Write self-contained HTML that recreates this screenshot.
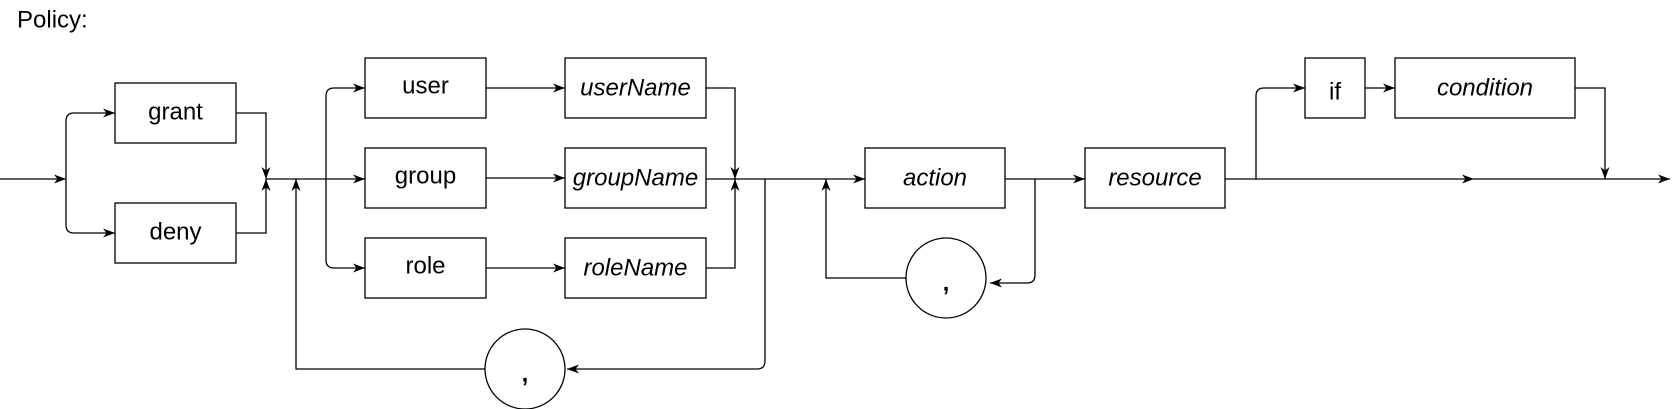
<!DOCTYPE html>
<html><head><meta charset="utf-8"><style>
html,body{margin:0;padding:0;background:#fff;}
svg{display:block;}
.b{fill:#fff;stroke:#000;stroke-width:1.3;}
.l{fill:none;stroke:#000;stroke-width:1.3;}
.t{font-family:"Liberation Sans",Arial,sans-serif;font-size:24px;text-anchor:middle;dominant-baseline:central;}
.i{font-family:"Liberation Sans",Arial,sans-serif;font-style:italic;font-size:24px;text-anchor:middle;dominant-baseline:central;}
</style></head><body>
<svg width="1675" height="409" viewBox="0 0 1675 409" xmlns="http://www.w3.org/2000/svg">
<defs><marker id="a" markerUnits="userSpaceOnUse" markerWidth="13" markerHeight="10" refX="12" refY="5" orient="auto"><path d="M0,0.5 L12,5 L0,9.5 L3.5,5 z" fill="#000"/></marker></defs>
<text x="17" y="20" font-family="Liberation Sans, Arial, sans-serif" font-size="24" dominant-baseline="central">Policy:</text>

<path class="l" d="M0,179 H66" marker-end="url(#a)"/>
<path class="l" d="M66,179 V121 Q66,113 74,113 H115" marker-end="url(#a)"/>
<path class="l" d="M66,179 V225 Q66,233 74,233 H115" marker-end="url(#a)"/>
<path class="l" d="M236,113 H266 V179" marker-end="url(#a)"/>
<path class="l" d="M236,233 H266 V179" marker-end="url(#a)"/>
<path class="l" d="M266,179 H365" marker-end="url(#a)"/>
<path class="l" d="M326,179 V96 Q326,88 334,88 H365" marker-end="url(#a)"/>
<path class="l" d="M326,179 V260 Q326,268 334,268 H365" marker-end="url(#a)"/>
<path class="l" d="M486,88 H565" marker-end="url(#a)"/>
<path class="l" d="M486,178 H565" marker-end="url(#a)"/>
<path class="l" d="M486,268 H565" marker-end="url(#a)"/>
<path class="l" d="M706,88 H735 V179" marker-end="url(#a)"/>
<path class="l" d="M706,268 H735 V179" marker-end="url(#a)"/>
<path class="l" d="M706,179 H735"/>
<path class="l" d="M735,179 H865" marker-end="url(#a)"/>
<path class="l" d="M765,179 V361 Q765,369 757,369 H567" marker-end="url(#a)"/>
<path class="l" d="M485,369 H296 V179" marker-end="url(#a)"/>
<path class="l" d="M1035,179 V275 Q1035,283 1027,283 H990" marker-end="url(#a)"/>
<path class="l" d="M906,278 H826 V179" marker-end="url(#a)"/>
<path class="l" d="M1005,179 H1085" marker-end="url(#a)"/>
<path class="l" d="M1225,179 H1474" marker-end="url(#a)"/>
<path class="l" d="M1474,179 H1670" marker-end="url(#a)"/>
<path class="l" d="M1256,179 V96 Q1256,88 1264,88 H1305" marker-end="url(#a)"/>
<path class="l" d="M1365,88 H1395" marker-end="url(#a)"/>
<path class="l" d="M1575,88 H1605 V179" marker-end="url(#a)"/>

<rect class="b" x="115" y="83" width="121" height="60"/><text class="t" x="175.5" y="112">grant</text>
<rect class="b" x="115" y="203" width="121" height="60"/><text class="t" x="175.5" y="232">deny</text>
<rect class="b" x="365" y="58" width="121" height="60"/><text class="t" x="425.5" y="86">user</text>
<rect class="b" x="365" y="148" width="121" height="60"/><text class="t" x="425.5" y="176">group</text>
<rect class="b" x="365" y="238" width="121" height="60"/><text class="t" x="425.5" y="266">role</text>
<rect class="b" x="565" y="58" width="141" height="60"/><text class="i" x="635.5" y="88">userName</text>
<rect class="b" x="565" y="148" width="141" height="60"/><text class="i" x="635.5" y="178">groupName</text>
<rect class="b" x="565" y="238" width="141" height="60"/><text class="i" x="635.5" y="268">roleName</text>
<rect class="b" x="865" y="148" width="140" height="60"/><text class="i" x="935" y="178">action</text>
<rect class="b" x="1085" y="148" width="140" height="60"/><text class="i" x="1155" y="178">resource</text>
<rect class="b" x="1305" y="58" width="60" height="60"/><text class="t" x="1335" y="92">if</text>
<rect class="b" x="1395" y="58" width="180" height="60"/><text class="i" x="1485" y="88">condition</text>

<circle class="b" cx="525" cy="369" r="40"/><text class="t" x="525" y="374" font-size="24" font-weight="bold">,</text>
<circle class="b" cx="946" cy="278" r="40"/><text class="t" x="946" y="283" font-size="24" font-weight="bold">,</text>
</svg>
</body></html>
